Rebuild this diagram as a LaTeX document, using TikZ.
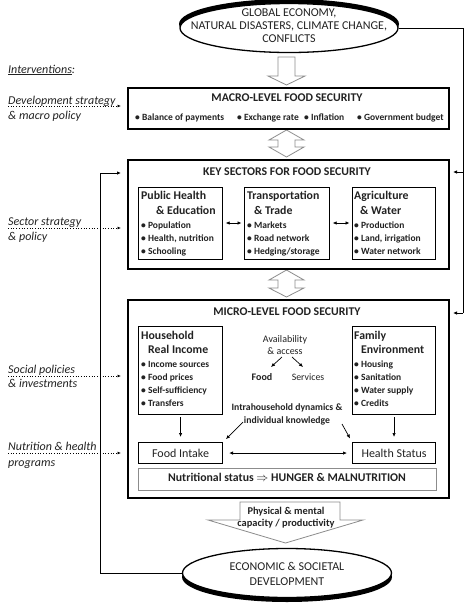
\documentclass[tikz,border=0pt]{standalone}
\usepackage{fontspec}
\setmainfont{Carlito}
\usetikzlibrary{arrows.meta,shapes.geometric}
\definecolor{txt}{HTML}{222222}
\definecolor{arrgray}{HTML}{8C8C8C}
\begin{document}
\begin{tikzpicture}[x=1pt,y=-1pt,
  txt/.style={inner sep=0pt, text=txt},
  bigbox/.style={draw, line width=1.5pt, anchor=north west, inner sep=0pt},
  subbox/.style={draw, line width=1.1pt, anchor=north west, inner sep=0pt},
  ttl/.style={txt, font=\bfseries\fontsize{11.8}{13}\selectfont, anchor=mid},
  subttl/.style={txt, font=\bfseries\fontsize{11.8}{13}\selectfont, anchor=mid west},
  bul/.style={txt, font=\bfseries\fontsize{9.5}{11}\selectfont, anchor=mid west},
  lbl/.style={txt, font=\itshape\fontsize{12}{14}\selectfont, anchor=base west},
  ell/.style={ellipse, draw, line width=1.3pt, fill=white, inner sep=0pt},
  elltxt/.style={txt, font=\fontsize{12}{14}\selectfont, anchor=mid},
  arr/.style={-{Latex[length=4pt,width=3.5pt]}, line width=0.7pt},
  darr/.style={{Latex[length=4pt,width=3.5pt]}-{Latex[length=4pt,width=3.5pt]}, line width=0.7pt},
  dotarr/.style={dotted, line width=0.7pt, -{Latex[length=3.5pt,width=3pt]}},
  blockarr/.style={draw=arrgray, line width=0.8pt, fill=white},
  conn/.style={line width=1pt}]
\useasboundingbox (0,0) rectangle (474,603);
\fill[white] (0,0) rectangle (474,603);

% ---------- top ellipse ----------
\fill[black] (289,24) ellipse [x radius=110, y radius=25];
\node[ell, minimum width=218, minimum height=49] (top) at (289,28) {};
\node[elltxt] (t1) at (289,14) {GLOBAL ECONOMY,};
\node[elltxt] (t2) at (289,27) {NATURAL DISASTERS, CLIMATE CHANGE,};
\node[elltxt] (t3) at (289,40) {CONFLICTS};

% ---------- bottom ellipse ----------
\fill[black] (287,577) ellipse [x radius=105, y radius=25];
\node[ell, minimum width=209, minimum height=49] (bot) at (287,573) {};
\node[elltxt] (b1) at (287,568) {ECONOMIC \& SOCIETAL};
\node[elltxt] (b2) at (287,583) {DEVELOPMENT};

% ---------- block arrows ----------
\draw[blockarr] (278,57) -- (295,57) -- (295,76) -- (305,76) -- (286.5,85) -- (268,76) -- (278,76) -- cycle;
\draw[blockarr] (286.5,130) -- (304,140) -- (295,140) -- (295,147) -- (304,147) -- (286.5,157) -- (269,147) -- (278,147) -- (278,140) -- (269,140) -- cycle;
\draw[blockarr] (286.5,270) -- (304,280) -- (295,280) -- (295,288) -- (304,288) -- (286.5,297) -- (269,288) -- (278,288) -- (278,280) -- (269,280) -- cycle;
\draw[blockarr] (240,502) -- (340,502) -- (340,520) -- (363,520) -- (285.5,543) -- (208,520) -- (240,520) -- cycle;
\node[txt, font=\bfseries\fontsize{10.4}{12}\selectfont, anchor=mid] (ph1) at (286,512) {Physical \& mental};
\node[txt, font=\bfseries\fontsize{10.4}{12}\selectfont, anchor=mid] (ph2) at (286,524) {capacity / productivity};

% ---------- macro box ----------
\node[bigbox, minimum width=321, minimum height=41] (macro) at (127,87) {};
\node[ttl] (mt) at (287,99) {MACRO-LEVEL FOOD SECURITY};
\node[bul] (m1) at (135,118) {• Balance of payments};
\node[bul] (m2) at (237,118) {• Exchange rate};
\node[bul] (m3) at (304,118) {• Inflation};
\node[bul] (m4) at (357,118) {• Government budget};

% ---------- key sectors ----------
\node[bigbox, minimum width=321, minimum height=109] (key) at (127,159) {};
\node[ttl] (kt) at (287,173) {KEY SECTORS FOR FOOD SECURITY};
\node[subbox, minimum width=84, minimum height=72] (ph) at (138,187) {};
\node[subbox, minimum width=85, minimum height=72] (tr) at (244,187) {};
\node[subbox, minimum width=83, minimum height=72] (ag) at (352,187) {};
\node[subttl] at (141,197) {Public Health};
\node[subttl] at (156,212) {\& Education};
\node[bul] at (141,226) {• Population};
\node[bul] at (141,239) {• Health, nutrition};
\node[bul] at (141,252) {• Schooling};
\node[subttl] at (247,197) {Transportation};
\node[subttl] at (254,212) {\& Trade};
\node[bul] at (247,226) {• Markets};
\node[bul] at (247,239) {• Road network};
\node[bul] at (247,252) {• Hedging/storage};
\node[subttl] at (354,197) {Agriculture};
\node[subttl] at (360,212) {\& Water};
\node[bul] at (354,226) {• Production};
\node[bul] at (354,239) {• Land, irrigation};
\node[bul] at (354,252) {• Water network};
\draw[darr, shorten <=2.5pt, shorten >=2.5pt] (ph.east |- 0,223) -- (tr.west |- 0,223);
\draw[darr, shorten <=2.5pt, shorten >=2.5pt] (tr.east |- 0,223) -- (ag.west |- 0,223);

% ---------- micro ----------
\node[bigbox, minimum width=321, minimum height=198] (micro) at (127,299) {};
\node[ttl] (mit) at (287,313) {MICRO-LEVEL FOOD SECURITY};
\node[subbox, minimum width=84, minimum height=88] (hh) at (138,326) {};
\node[subbox, minimum width=83, minimum height=88] (fe) at (352,326) {};
\node[subttl] at (141,337) {Household};
\node[subttl] at (148,351) {Real Income};
\node[bul] at (141,365) {• Income sources};
\node[bul] at (141,378) {• Food prices};
\node[bul] at (141,391) {• Self-sufficiency};
\node[bul] at (141,404) {• Transfers};
\node[subttl] at (354,337) {Family};
\node[subttl] at (361,351) {Environment};
\node[bul] at (354,365) {• Housing};
\node[bul] at (354,378) {• Sanitation};
\node[bul] at (354,391) {• Water supply};
\node[bul] at (354,404) {• Credits};

\node[txt, font=\fontsize{10}{12}\selectfont, anchor=mid] (av1) at (285,340) {Availability};
\node[txt, font=\fontsize{10}{12}\selectfont, anchor=mid] (av2) at (285,352) {\& access};
\node[txt, font=\bfseries\fontsize{10}{12}\selectfont, anchor=mid] (food) at (262,378) {Food};
\node[txt, font=\fontsize{9.8}{12}\selectfont, anchor=mid] (serv) at (308,378) {Services};
\coordinate (avl) at (282,357);
\coordinate (avr) at (292,357);
\coordinate (fdt) at (271,367);
\coordinate (svt) at (303,367);
\draw[arr] (avl) -- (fdt);
\draw[arr] (avr) -- (svt);

\node[txt, font=\bfseries\fontsize{9.7}{12}\selectfont, anchor=mid] (in1) at (287,408) {Intrahousehold dynamics \&};
\node[txt, font=\bfseries\fontsize{9.7}{12}\selectfont, anchor=mid] (in2) at (287,421) {individual knowledge};
\coordinate (inl) at (243,422);
\coordinate (inr) at (342,424);

\node[subbox, minimum width=84, minimum height=21, font=\fontsize{12}{14}\selectfont, text=txt] (fi) at (138,442) {Food Intake};
\node[subbox, minimum width=83, minimum height=21, font=\fontsize{12}{14}\selectfont, text=txt] (hs) at (352,442) {Health Status};
\draw[arr, shorten <=2pt, shorten >=5pt] (hh.south) -- (fi.north);
\draw[arr, shorten <=2pt, shorten >=5pt] (fe.south) -- (hs.north);
\draw[arr, shorten >=4pt] (inl) -- (fi.north east);
\draw[arr, shorten >=4pt] (inr) -- (hs.north west);
\draw[darr, shorten <=6pt, shorten >=5pt] (fi.east) -- (hs.west);

\node[draw=arrgray, line width=1pt, anchor=north west, minimum width=298, minimum height=22, inner sep=0pt] (ns) at (138,468) {};
\node[txt, font=\bfseries\fontsize{11.8}{13}\selectfont, anchor=mid] (nst) at (287,479) {Nutritional status $\Rightarrow$ HUNGER \& MALNUTRITION};

% ---------- connectors ----------
\coordinate (r1) at (463,172);
\coordinate (r2) at (463,313);
\coordinate (k1) at (453,172);
\coordinate (mm1) at (453,313);
\draw[conn] (top.east) -| (r2);
\draw[conn, arr, line width=1pt] (r2) -- (mm1);
\draw[conn, arr, line width=1pt] (r1) -- (k1);
\coordinate (l1) at (100,173);
\coordinate (k2) at (121,173);
\draw[conn] (bot.west) -| (l1);
\draw[conn, arr, line width=1pt] (l1) -- (k2);

% ---------- interventions ----------
\node[lbl] (iv) at (8,73) {\underline{Interventions}:};
\node[lbl] (d1) at (8,104) {Development strategy};
\node[lbl] (d2) at (8,119) {\& macro policy};
\node[lbl] (s1) at (8,225) {Sector strategy};
\node[lbl] (s2) at (8,240) {\& policy};
\node[lbl] (so1) at (8,373) {Social policies};
\node[lbl] (so2) at (8,387) {\& investments};
\node[lbl] (n1) at (8,450) {Nutrition \& health};
\node[lbl] (n2) at (8,466) {programs};
\coordinate (dt) at (121,106);
\coordinate (st) at (121,228);
\coordinate (sot) at (121,376);
\coordinate (nt) at (121,453);
\draw[dotarr] (d1.base west |- 0,106) -- (dt);
\draw[dotarr] (s1.base west |- 0,228) -- (st);
\draw[dotarr] (so1.base west |- 0,376) -- (sot);
\draw[dotarr] (n1.base west |- 0,453) -- (nt);
\end{tikzpicture}
\end{document}
